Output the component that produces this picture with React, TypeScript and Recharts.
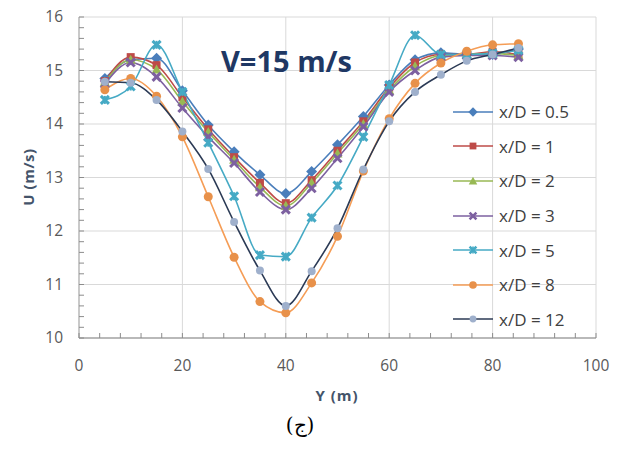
import React from "react";
import { LineChart, Line, XAxis, YAxis, CartesianGrid } from "recharts";

// Y position (m) where velocity was sampled
const yPositions = [5, 10, 15, 20, 25, 30, 35, 40, 45, 50, 55, 60, 65, 70, 75, 80, 85];

// U (m/s) for each downstream distance x/D
const uD05 = [14.85, 15.2, 15.23, 14.62, 13.98, 13.48, 13.05, 12.7, 13.11, 13.61, 14.14, 14.73, 15.2, 15.33, 15.3, 15.3, 15.4];
const uD1 = [14.8, 15.25, 15.1, 14.5, 13.9, 13.38, 12.9, 12.52, 12.95, 13.5, 14.05, 14.68, 15.15, 15.3, 15.3, 15.35, 15.3];
const uD2 = [14.78, 15.2, 15.02, 14.42, 13.85, 13.33, 12.82, 12.47, 12.9, 13.45, 14.0, 14.63, 15.08, 15.28, 15.3, 15.32, 15.28];
const uD3 = [14.75, 15.15, 14.88, 14.3, 13.76, 13.27, 12.73, 12.4, 12.8, 13.36, 13.95, 14.6, 15.0, 15.25, 15.28, 15.28, 15.25];
const uD5 = [14.45, 14.7, 15.48, 14.6, 13.65, 12.65, 11.55, 11.52, 12.25, 12.85, 13.76, 14.73, 15.66, 15.3, 15.3, 15.32, 15.38];
const uD8 = [14.64, 14.85, 14.52, 13.76, 12.64, 11.51, 10.68, 10.47, 11.03, 11.9, 13.12, 14.1, 14.76, 15.14, 15.36, 15.48, 15.5];
const uD12 = [14.79, 14.77, 14.45, 13.86, 13.16, 12.17, 11.26, 10.6, 11.25, 12.05, 13.15, 14.05, 14.6, 14.92, 15.18, 15.3, 15.42];

const xMajor = [0, 20, 40, 60, 80, 100];
const yMajor = [10, 11, 12, 13, 14, 15, 16];

type Shape = "diamond" | "square" | "triangle" | "cross" | "star" | "circle" | "dot";

const series: { key: string; name: string; values: number[]; stroke: string; fill: string; shape: Shape }[] = [
  { key: "d05", name: "x/D = 0.5", values: uD05, stroke: "#4a7ebb", fill: "#4a7ebb", shape: "diamond" },
  { key: "d1", name: "x/D = 1", values: uD1, stroke: "#be4b48", fill: "#be4b48", shape: "square" },
  { key: "d2", name: "x/D = 2", values: uD2, stroke: "#98b954", fill: "#98b954", shape: "triangle" },
  { key: "d3", name: "x/D = 3", values: uD3, stroke: "#7d60a0", fill: "#7d60a0", shape: "cross" },
  { key: "d5", name: "x/D = 5", values: uD5, stroke: "#46aac5", fill: "#46aac5", shape: "star" },
  { key: "d8", name: "x/D = 8", values: uD8, stroke: "#f59d56", fill: "#e8914a", shape: "circle" },
  { key: "d12", name: "x/D = 12", values: uD12, stroke: "#2b3a55", fill: "#9fb0cc", shape: "dot" },
];

const data = yPositions.map((y, i) => {
  const row: Record<string, number> = { y };
  series.forEach((s) => (row[s.key] = s.values[i]));
  return row;
});

// subdivide major ticks for the small inner tick marks
const subdivide = (major: number[], parts: number) => {
  const out: number[] = [];
  for (let i = 0; i < major.length - 1; i++) {
    const step = (major[i + 1] - major[i]) / parts;
    for (let k = 0; k < parts; k++) out.push(+(major[i] + k * step).toFixed(3));
  }
  out.push(major[major.length - 1]);
  return out;
};
const xTicks = subdivide(xMajor, 5);
const yTicks = subdivide(yMajor, 5);

function marker(shape: Shape, cx: number, cy: number, color: string, key?: string, s = 1) {
  switch (shape) {
    case "diamond":
      return <polygon key={key} points={`${cx},${cy - 5.5 * s} ${cx + 5.5 * s},${cy} ${cx},${cy + 5.5 * s} ${cx - 5.5 * s},${cy}`} fill={color} />;
    case "square":
      return <rect key={key} x={cx - 4 * s} y={cy - 4 * s} width={8 * s} height={8 * s} fill={color} />;
    case "triangle":
      return <polygon key={key} points={`${cx},${cy - 5 * s} ${cx + 5 * s},${cy + 4 * s} ${cx - 5 * s},${cy + 4 * s}`} fill={color} />;
    case "cross":
      return (
        <g key={key} stroke={color} strokeWidth={3 * s}>
          <line x1={cx - 4 * s} y1={cy - 4 * s} x2={cx + 4 * s} y2={cy + 4 * s} />
          <line x1={cx - 4 * s} y1={cy + 4 * s} x2={cx + 4 * s} y2={cy - 4 * s} />
        </g>
      );
    case "star":
      return (
        <g key={key} stroke={color} strokeWidth={3 * s}>
          <line x1={cx - 4 * s} y1={cy - 4 * s} x2={cx + 4 * s} y2={cy + 4 * s} />
          <line x1={cx - 4 * s} y1={cy + 4 * s} x2={cx + 4 * s} y2={cy - 4 * s} />
          <line x1={cx} y1={cy - 4 * s} x2={cx} y2={cy + 4 * s} strokeWidth={2 * s} />
        </g>
      );
    case "circle":
      return <circle key={key} cx={cx} cy={cy} r={4.5 * s} fill={color} />;
    default:
      return <circle key={key} cx={cx} cy={cy} r={4 * s} fill={color} />;
  }
}

const YTick = (props: any) => {
  const { x, y, payload } = props;
  const v = payload.value;
  const major = Math.abs(v - Math.round(v)) < 1e-6;
  return (
    <g>
      <line x1={x} y1={y} x2={x + 5} y2={y} stroke="#8c8c8c" />
      {major && (
        <text x={x - 16} y={y + 5} textAnchor="end" fontSize={15.5} fill="#595959" fontFamily="Open Sans, sans-serif">
          {v}
        </text>
      )}
    </g>
  );
};

const XTick = (props: any) => {
  const { x, y, payload } = props;
  const v = payload.value;
  const major = v % 20 === 0;
  return (
    <g>
      <line x1={x} y1={y} x2={x} y2={y - 5} stroke="#8c8c8c" />
      {major && (
        <text x={x} y={y + 33} textAnchor="middle" fontSize={15.5} fill="#595959" fontFamily="Open Sans, sans-serif">
          {v}
        </text>
      )}
    </g>
  );
};

export default function App() {
  return (
    <div style={{ position: "absolute", left: 0, top: 0, width: 622, height: 450, background: "#fff" }}>
      <LineChart width={622} height={450} data={data} margin={{ top: 17, right: 26, bottom: 82, left: 29 }}>
        <CartesianGrid stroke="#d9d9d9" horizontalValues={yMajor} verticalValues={xMajor} />
        <XAxis
          dataKey="y"
          type="number"
          domain={[0, 100]}
          ticks={xTicks}
          interval={0}
          height={30}
          tickSize={0}
          tickMargin={0}
          tickLine={false}
          axisLine={{ stroke: "#868686" }}
          tick={<XTick />}
        />
        <YAxis
          type="number"
          domain={[10, 16]}
          ticks={yTicks}
          interval={0}
          width={50}
          tickSize={0}
          tickMargin={0}
          tickLine={false}
          axisLine={{ stroke: "#a6a6a6" }}
          tick={<YTick />}
        />
        {series.map((s) => (
          <Line
            key={s.key}
            dataKey={s.key}
            name={s.name}
            type="monotone"
            stroke={s.stroke}
            strokeWidth={1.6}
            isAnimationActive={false}
            dot={(p: any) => marker(s.shape, p.cx, p.cy, s.fill, `${s.key}-${p.index}`)}
            activeDot={false}
          />
        ))}
      </LineChart>

      <div
        style={{
          position: "absolute",
          left: 221,
          top: 41,
          fontFamily: "Open Sans, sans-serif",
          fontWeight: 700,
          fontSize: 29,
          lineHeight: "40px",
          color: "#1f3864",
          whiteSpace: "nowrap",
        }}
      >
        V=15 m/s
      </div>

      <div style={{ position: "absolute", left: 451, top: 94.5 }}>
        {series.map((s) => (
          <div key={s.key} style={{ display: "flex", alignItems: "center", height: 34.6 }}>
            <svg width={44} height={16}>
              <line x1={2} y1={8} x2={42} y2={8} stroke={s.stroke} strokeWidth={1.6} />
              {marker(s.shape, 22, 8, s.fill, undefined, 0.85)}
            </svg>
            <span style={{ fontFamily: "Open Sans, sans-serif", fontSize: 17, color: "#404040", marginLeft: 4 }}>
              {s.name}
            </span>
          </div>
        ))}
      </div>

      <div
        style={{
          position: "absolute",
          left: 0,
          width: 36,
          top: 177,
          height: 0,
          display: "flex",
          justifyContent: "center",
        }}
      >
        <div
          style={{
            transform: "translateY(-50%) rotate(-90deg)",
            fontFamily: "Open Sans, sans-serif",
            fontWeight: 700,
            fontSize: 15,
            letterSpacing: 0.5,
            color: "#44546a",
            whiteSpace: "nowrap",
          }}
        >
          U (m/s)
        </div>
      </div>

      <div
        style={{
          position: "absolute",
          left: 287,
          width: 100,
          top: 385,
          textAlign: "center",
          fontFamily: "Open Sans, sans-serif",
          fontWeight: 700,
          fontSize: 15,
          letterSpacing: 1,
          color: "#44546a",
        }}
      >
        Y (m)
      </div>

      <div
        style={{
          position: "absolute",
          left: 250,
          width: 100,
          top: 413,
          textAlign: "center",
          fontFamily: "DejaVu Serif, serif",
          fontSize: 20,
          color: "#000",
        }}
      >
        (ج)
      </div>
    </div>
  );
}
